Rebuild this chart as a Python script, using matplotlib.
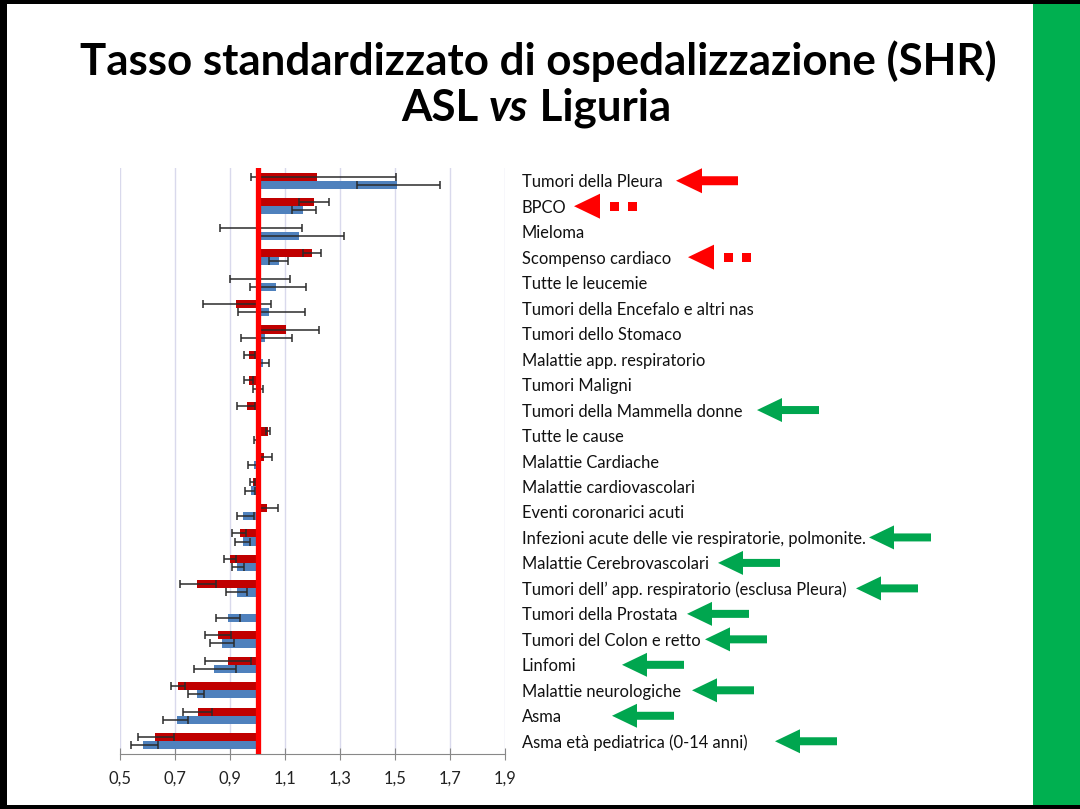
import numpy as np
import matplotlib.pyplot as plt
from matplotlib.patches import Polygon, Rectangle
from matplotlib.transforms import Affine2D

plt.rcParams['font.family'] = ['Lato', 'DejaVu Sans']

# categories, top to bottom
categories = [
    "Tumori della Pleura", "BPCO", "Mieloma", "Scompenso cardiaco",
    "Tutte le leucemie", "Tumori della Encefalo e altri nas",
    "Tumori dello Stomaco", "Malattie app. respiratorio", "Tumori Maligni",
    "Tumori della Mammella donne", "Tutte le cause", "Malattie Cardiache",
    "Malattie cardiovascolari", "Eventi coronarici acuti",
    "Infezioni acute delle vie respiratorie, polmonite.",
    "Malattie Cerebrovascolari",
    "Tumori dell\u2019 app. respiratorio (esclusa Pleura)",
    "Tumori della Prostata", "Tumori del Colon e retto", "Linfomi",
    "Malattie neurologiche", "Asma", "Asma et\u00e0 pediatrica (0-14 anni)",
]

nan = np.nan
# ASL (red) SHR with confidence limits
asl = np.array([1.215, 1.205, 1.000, 1.199, 1.000, 0.921, 1.102, 0.969, 0.969,
                0.960, 1.039, 1.025, 0.985, 1.036, 0.936, 0.900, 0.779, nan,
                0.857, 0.891, 0.712, 0.785, 0.627])
asl_lo = np.array([0.976, 1.152, 0.864, 1.167, 0.900, 0.803, 1.000, 0.951, 0.951,
                   0.924, 1.030, 1.005, 0.973, 1.000, 0.908, 0.879, 0.718, nan,
                   0.809, 0.810, 0.685, 0.730, 0.564])
asl_hi = np.array([1.502, 1.261, 1.161, 1.231, 1.118, 1.048, 1.224, 0.990, 0.985,
                   0.990, 1.045, 1.052, 0.992, 1.076, 0.960, 0.921, 0.848, nan,
                   0.904, 0.976, 0.738, 0.836, 0.696])
# Liguria (blue)
lig = np.array([1.506, 1.164, 1.152, 1.078, 1.067, 1.043, 1.027, 1.021, 1.005,
                nan, 0.995, 0.987, 0.976, 0.949, 0.946, 0.927, 0.924, 0.894,
                0.872, 0.843, 0.779, 0.706, 0.585])
lig_lo = np.array([1.363, 1.124, 1.000, 1.043, 0.973, 0.928, 0.940, 1.009, 0.985,
                   nan, 0.988, 0.967, 0.956, 0.924, 0.918, 0.906, 0.884, 0.850,
                   0.827, 0.769, 0.748, 0.658, 0.539])
lig_hi = np.array([1.664, 1.212, 1.315, 1.112, 1.175, 1.171, 1.124, 1.043, 1.021,
                   nan, 1.000, 1.005, 0.990, 0.988, 0.973, 0.952, 0.963, 0.935,
                   0.916, 0.922, 0.807, 0.748, 0.639])

xticks = [0.5, 0.7, 0.9, 1.1, 1.3, 1.5, 1.7, 1.9]

# annotation arrows: (category, tip x in pixels)
red_arrows = [("Tumori della Pleura", 676, "solid"),
              ("BPCO", 574, "dotted"),
              ("Scompenso cardiaco", 688, "dotted")]
green_arrows = [("Tumori della Mammella donne", 757),
                ("Infezioni acute delle vie respiratorie, polmonite.", 869),
                ("Malattie Cerebrovascolari", 718),
                ("Tumori dell\u2019 app. respiratorio (esclusa Pleura)", 856),
                ("Tumori della Prostata", 687),
                ("Tumori del Colon e retto", 705),
                ("Linfomi", 622),
                ("Malattie neurologiche", 692),
                ("Asma", 612),
                ("Asma et\u00e0 pediatrica (0-14 anni)", 775)]

W, H = 1080, 809
fig = plt.figure(figsize=(W / 100, H / 100), dpi=100)
# pixel coordinates, origin top-left
px = Affine2D().scale(1 / W, -1 / H).translate(0, 1) + fig.transFigure
r = fig.canvas.get_renderer()


def fit_size(s, target, **kw):
    t = fig.text(0, 0, s, fontsize=10, **kw)
    w = t.get_window_extent(r).width
    t.remove()
    return 10 * target / w


label_fs = fit_size("Tumori della Pleura", 141)
title_fs = fit_size("Tasso standardizzato di ospedalizzazione (SHR)", 917,
                    fontweight='bold')

ax = fig.add_axes([120 / W, (H - 754) / H, 385 / W, 586 / H])
n = len(categories)
y = np.arange(n)
h = 0.32

ax.barh(y - 0.16, asl - 1, left=1, height=h, color='#C00000', zorder=2)
ax.barh(y + 0.16, lig - 1, left=1, height=h, color='#4F81BD', zorder=2)
ax.errorbar(asl, y - 0.16, xerr=[asl - asl_lo, asl_hi - asl], fmt='none',
            ecolor='#2b2b2b', elinewidth=1.1, capsize=2.6, capthick=1.1, zorder=3)
ax.errorbar(lig, y + 0.16, xerr=[lig - lig_lo, lig_hi - lig], fmt='none',
            ecolor='#2b2b2b', elinewidth=1.1, capsize=2.6, capthick=1.1, zorder=3)
ax.axvline(1.0, color='#FF0000', lw=3.8, zorder=4)

ax.set_xlim(0.5, 1.9)
ax.set_ylim(n - 0.5, -0.5)
ax.set_xticks(xticks)
ax.set_xticklabels([f"{v:.1f}".replace('.', ',') for v in xticks],
                   fontsize=label_fs, color='#222222')
ax.grid(axis='x', color='#D9D9EC', lw=1)
ax.set_axisbelow(True)
for s in ['top', 'left', 'right']:
    ax.spines[s].set_visible(False)
ax.spines['bottom'].set_color('#888888')
ax.tick_params(axis='x', color='#888888', direction='inout', length=8, pad=8)

ax.yaxis.tick_right()
ax.set_yticks(y)
ax.set_yticklabels(categories, fontsize=label_fs, color='#111111')
ax.tick_params(axis='y', length=0, pad=12)

# slide decorations
fig.patches.append(Rectangle((1033, 4), 47, 801, transform=px, color='#00B050', lw=0))
fig.patches.append(Rectangle((0, 0), W, 4, transform=px, color='black', lw=0))
fig.patches.append(Rectangle((0, 805), W, 4, transform=px, color='black', lw=0))
fig.patches.append(Rectangle((0, 0), 7, H, transform=px, color='black', lw=0))

# title
fig.text(538, 75, "Tasso standardizzato di ospedalizzazione (SHR)", transform=px,
         ha='center', va='baseline', fontsize=title_fs, fontweight='bold')
parts = [("ASL ", 'normal'), ("vs", 'italic'), (" Liguria", 'normal')]
widths = []
for s, st in parts:
    t = fig.text(0, 0, s, fontsize=title_fs, fontweight='bold', style=st)
    widths.append(t.get_window_extent(r).width)
    t.remove()
x0 = 536 - sum(widths) / 2
for (s, st), w in zip(parts, widths):
    fig.text(x0, 121, s, transform=px, ha='left', va='baseline',
             fontsize=title_fs, fontweight='bold', style=st)
    x0 += w


def cat_y(name):
    i = categories.index(name)
    return H - ax.transData.transform((1.0, i))[1]


def arrow(tip, yc, color, style="solid", L=62, hl=26, hh=25, sw=9):
    head = [(tip, yc), (tip + hl, yc - hh / 2), (tip + hl, yc + hh / 2)]
    if style == "solid":
        pts = [(tip, yc), (tip + hl, yc - hh / 2), (tip + hl, yc - sw / 2),
               (tip + L, yc - sw / 2), (tip + L, yc + sw / 2),
               (tip + hl, yc + sw / 2), (tip + hl, yc + hh / 2)]
        fig.patches.append(Polygon(pts, closed=True, transform=px, color=color, lw=0))
    else:
        fig.patches.append(Polygon(head, closed=True, transform=px, color=color, lw=0))
        for dx in (hl + 10, hl + 28):
            fig.patches.append(Rectangle((tip + dx, yc - 4.5), 8.5, 9,
                                         transform=px, color=color, lw=0))


for name, tip, st in red_arrows:
    arrow(tip, cat_y(name), '#FF0000', st)
for name, tip in green_arrows:
    arrow(tip, cat_y(name), '#00A64F', "solid", L=62, hl=25, hh=24, sw=8)

fig.savefig("out.png", dpi=100)
